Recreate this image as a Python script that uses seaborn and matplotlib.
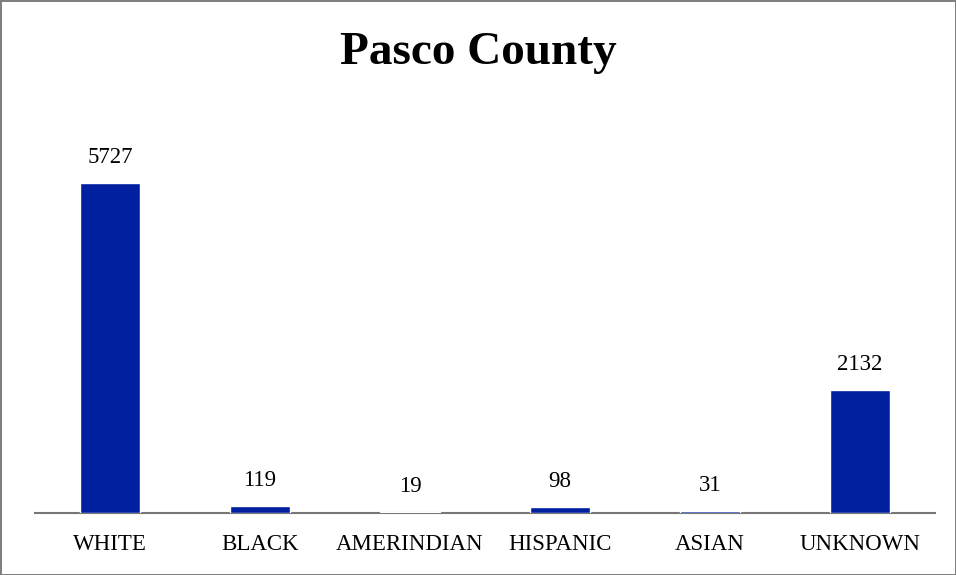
import matplotlib
matplotlib.use("Agg")
import matplotlib.pyplot as plt
import seaborn as sns
import pandas as pd

races = ["WHITE", "BLACK", "AMERINDIAN", "HISPANIC", "ASIAN", "UNKNOWN"]
counts = [5727, 119, 19, 98, 31, 2132]

sns.set_style("white")
plt.rcParams['font.family'] = ['Liberation Serif', 'DejaVu Serif']
plt.rcParams['text.color'] = "black"
plt.rcParams['xtick.color'] = "black"

df = pd.DataFrame({"race": races, "count": counts})

fig = plt.figure(figsize=(9.56, 5.75), dpi=100)
fig.patch.set_edgecolor("#808080")
fig.patch.set_linewidth(2)
ax = fig.add_axes([0.0366, 0.1078, 0.9414, 0.701])

sns.barplot(data=df, x="race", y="count", color="#0020A0", saturation=1,
            width=0.4, ax=ax, zorder=3)
for c in ax.containers:
    ax.bar_label(c, padding=11, fontsize=16.5, color="black")

ax.set_xlim(-0.5, 5.5)
ax.set_ylim(0, 7000)
ax.set_xlabel("")
ax.set_ylabel("")
ax.set_yticks([])
ax.tick_params(axis="x", length=0, pad=15, labelsize=16.5, labelcolor="black")
for s in ["top", "left", "right"]:
    ax.spines[s].set_visible(False)
ax.spines["bottom"].set_color("#777777")
ax.spines["bottom"].set_linewidth(1.5)
ax.spines["bottom"].set_zorder(1)

fig.text(0.5, 0.907, "Pasco County", ha="center", va="center",
         fontsize=34, fontweight="bold", color="black")

plt.savefig("out.png", dpi=100, edgecolor=fig.get_edgecolor())
